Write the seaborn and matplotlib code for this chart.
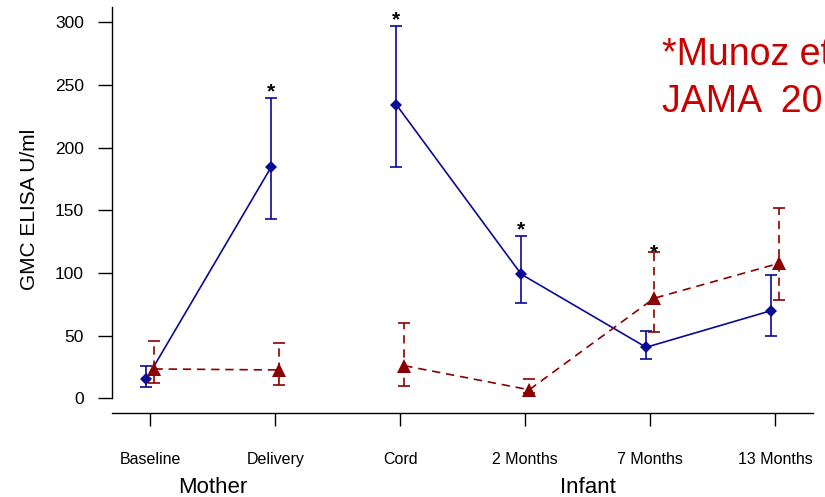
import numpy as np
import pandas as pd
import matplotlib
matplotlib.use("Agg")
import matplotlib.pyplot as plt
import matplotlib.transforms as mtransforms
import seaborn as sns

# ---------------- data ----------------
categories = ["Baseline", "Delivery", "Cord", "2 Months", "7 Months", "13 Months"]
groups = ["Mother", "Mother", "Infant", "Infant", "Infant", "Infant"]

tdap_gmc = [15.4, 184.8, 234.3, 99.0, 40.7, 69.9]
tdap_lo = [9.3, 143.0, 184.6, 76.3, 31.1, 49.7]
tdap_hi = [26.0, 239.4, 297.3, 129.8, 53.7, 98.4]

placebo_gmc = [23.4, 22.6, 26.0, 6.8, 79.8, 107.7]
placebo_lo = [12.0, 10.6, 10.1, 4.0, 52.9, 78.4]
placebo_hi = [45.5, 44.4, 60.3, 15.6, 116.5, 151.6]

# significance asterisks: height and which series' bar it sits above
star_y = [None, 248.5, 306.0, 138.5, 120.5, None]
star_series = [None, "Tdap", "Tdap", "Tdap", "Placebo", None]

yticks = [0, 50, 100, 150, 200, 250, 300]
ylabel = "GMC ELISA U/ml"
note_lines = ["*Munoz et al.", "JAMA  2014"]

# ---------------- styling ----------------
sns.set_theme(style="white")
plt.rcParams["font.family"] = ["Liberation Sans", "DejaVu Sans"]
plt.rcParams["text.color"] = "black"
plt.rcParams["axes.labelcolor"] = "black"
plt.rcParams["xtick.color"] = "black"
plt.rcParams["ytick.color"] = "black"

colors = {"Tdap": "#0A0A96", "Placebo": "#8B0000"}
markers = {"Tdap": "D", "Placebo": "^"}
msizes = {"Tdap": 6, "Placebo": 9.5}
dodge = {"Tdap": -0.032, "Placebo": 0.032}
dash = (0, (5, 3.5))
lstyles = {"Tdap": "-", "Placebo": dash}
zbase = {"Tdap": 2, "Placebo": 4}

W, H = 825, 497
fig = plt.figure(figsize=(W / 100, H / 100), dpi=100)
ax_left, ax_right, ax_top, ax_bottom = 111.5, 813.0, 7.0, 412.7
ax = fig.add_axes([ax_left / W, 1 - ax_bottom / H,
                   (ax_right - ax_left) / W, (ax_bottom - ax_top) / H])

idx = np.arange(1, len(categories) + 1)
series = {
    "Tdap": (tdap_gmc, tdap_lo, tdap_hi),
    "Placebo": (placebo_gmc, placebo_lo, placebo_hi),
}

rows = []
for s, (g, lo, hi) in series.items():
    for i, cat in enumerate(categories):
        rows.append({"series": s, "category": cat, "group": groups[i],
                     "x": idx[i] + dodge[s], "gmc": g[i], "lo": lo[i], "hi": hi[i]})
df = pd.DataFrame(rows)

for s in ["Tdap", "Placebo"]:
    sub = df[df["series"] == s]
    eb = ax.errorbar(sub["x"], sub["gmc"],
                     yerr=[sub["gmc"] - sub["lo"], sub["hi"] - sub["gmc"]],
                     fmt="none", ecolor=colors[s], elinewidth=1.2,
                     capsize=4.5, capthick=1.2, zorder=zbase[s])
    if s == "Placebo":
        for lc in eb[2]:
            lc.set_linestyle(dash)
    sns.lineplot(data=sub, x="x", y="gmc", units="group", estimator=None,
                 sort=False, color=colors[s], marker=markers[s],
                 markersize=msizes[s], markeredgewidth=0, linewidth=1.2,
                 linestyle=lstyles[s], legend=False, ax=ax, zorder=zbase[s] + 1)

# asterisks
star_tr = mtransforms.offset_copy(ax.transData, fig=fig, x=0, y=-11, units="dots")
for i, (yv, ss) in enumerate(zip(star_y, star_series)):
    if yv is None:
        continue
    ax.text(idx[i] + dodge[ss], yv, "*", ha="center", va="baseline",
            fontsize=15, fontweight="bold", color="black", transform=star_tr)

# axes
ax.set_xlim(0.688, 6.304)
ax.set_ylim(-11.5, 312.2)
ax.set_xticks(idx, categories)
ax.set_yticks(yticks, [str(t) for t in yticks])
ax.set_xlabel("")
ax.set_ylabel(ylabel, fontsize=15)
ax.yaxis.set_label_coords(-0.103, 0.5)

ax.tick_params(axis="x", bottom=True, length=9.5, width=1.0, pad=18.5, labelsize=11.5)
ax.tick_params(axis="y", left=True, length=9.8, width=1.0, pad=10, labelsize=12.5)
for side in ["top", "right"]:
    ax.spines[side].set_visible(False)
for side in ["left", "bottom"]:
    ax.spines[side].set_color("black")
    ax.spines[side].set_linewidth(1.0)
ax.spines["left"].set_bounds(0, 312.2)
ax.grid(False)

# group labels (Mother / Infant)
for gname in ["Mother", "Infant"]:
    pos = np.mean([idx[i] for i in range(len(groups)) if groups[i] == gname])
    ax.text(pos, -0.198, gname, transform=ax.get_xaxis_transform(),
            ha="center", va="baseline", fontsize=16, color="black")

# reference note (runs off the right edge, as in the original)
fig.text(662 / W, 1 - 65 / H, note_lines[0], ha="left", va="baseline",
         fontsize=27, color="#C80000")
fig.text(662 / W, 1 - 112 / H, note_lines[1], ha="left", va="baseline",
         fontsize=27, color="#C80000")

fig.savefig("out.png", dpi=100)
